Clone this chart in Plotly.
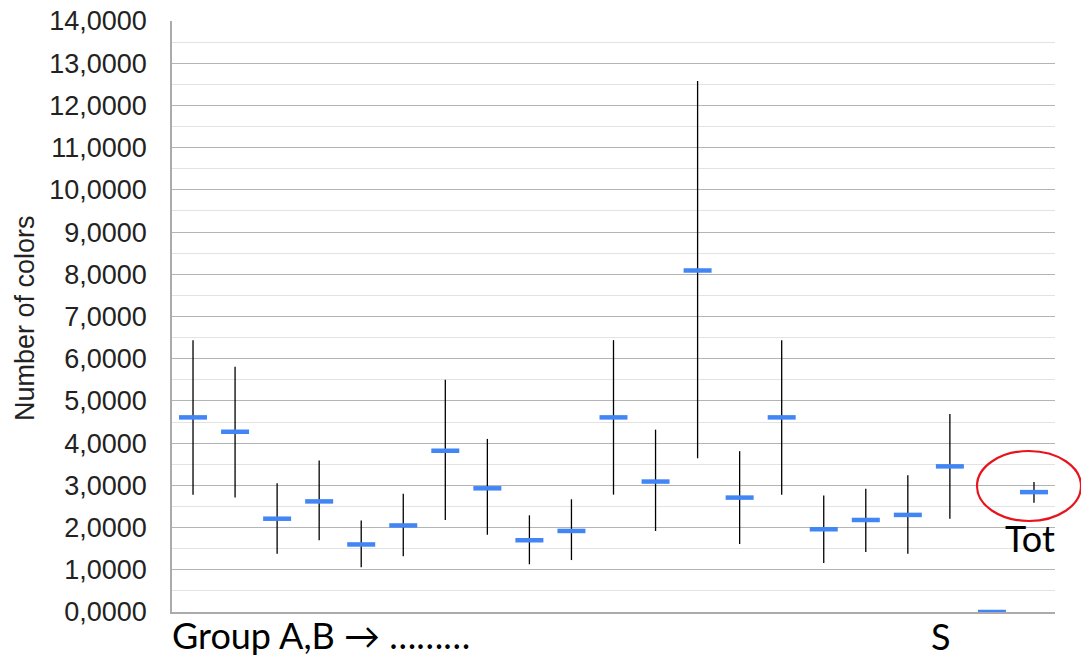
import plotly.graph_objects as go

# ---- data ----
categories = ["A,B", "C", "D", "E", "F", "G", "H", "I", "J", "K", "L",
              "M", "N", "O", "P", "Q", "R", "S1", "S2", "S", "Tot"]
mean_vals = [4.61, 4.27, 2.21, 2.62, 1.60, 2.05, 3.82, 2.93, 1.70, 1.92, 4.61,
             3.09, 8.09, 2.71, 4.61, 1.96, 2.18, 2.30, 3.45, 0.0, 2.84]
upper_vals = [6.44, 5.81, 3.05, 3.59, 2.17, 2.80, 5.50, 4.10, 2.29, 2.67, 6.44,
              4.32, 12.58, 3.81, 6.44, 2.76, 2.92, 3.24, 4.69, 0.0, 3.08]
lower_vals = [2.78, 2.71, 1.38, 1.70, 1.06, 1.32, 2.18, 1.83, 1.13, 1.23, 2.78,
              1.92, 3.64, 1.61, 2.78, 1.16, 1.42, 1.38, 2.21, 0.0, 2.59]
y_ticks = [0, 1, 2, 3, 4, 5, 6, 7, 8, 9, 10, 11, 12, 13, 14]

err_plus = [u - m for u, m in zip(upper_vals, mean_vals)]
err_minus = [m - l for m, l in zip(mean_vals, lower_vals)]

W, H = 1081, 660
ML, MR, MT, MB = 172, 26, 21, 48
PW, PH = W - ML - MR, H - MT - MB


def px(x):
    return (x - ML) / PW


def py(y):
    return (H - MB - y) / PH


fig = go.Figure()
fig.add_trace(go.Scatter(
    x=categories,
    y=mean_vals,
    mode="markers",
    marker=dict(symbol="line-ew", size=20,
                line=dict(color="#4285F4", width=4.5)),
    error_y=dict(type="data", symmetric=False, array=err_plus,
                 arrayminus=err_minus, color="#000000", thickness=1.3,
                 width=0),
    showlegend=False,
))

fig.update_layout(
    width=W, height=H,
    margin=dict(l=ML, r=MR, t=MT, b=MB, pad=0, autoexpand=False),
    plot_bgcolor="white",
    paper_bgcolor="white",
    separators=",.",
    font=dict(family="Liberation Sans, Arial, sans-serif", color="#222222"),
)

fig.update_xaxes(
    type="category",
    range=[-0.5, len(categories) - 0.5],
    showticklabels=False,
    showgrid=False,
    zeroline=False,
    showline=True, linecolor="#ababab", linewidth=1.5,
    ticks="",
    automargin=False,
)

fig.update_yaxes(
    range=[0, 14],
    tickvals=y_ticks,
    tickformat=".4f",
    tickfont=dict(size=27, color="#222222"),
    ticks="",
    ticklabelstandoff=18,
    showgrid=True, gridcolor="#b4b4b4", gridwidth=1.3,
    minor=dict(dtick=0.5, showgrid=True, gridcolor="#e3e3e3", gridwidth=1.3),
    zeroline=False,
    showline=True, linecolor="#ababab", linewidth=1.5,
    automargin=False,
)

# y-axis title
fig.add_annotation(text="Number of colors", xref="paper", yref="paper",
                   x=px(25), y=py(318), textangle=-90, showarrow=False,
                   xanchor="center", yanchor="middle",
                   font=dict(size=27, color="#222222",
                             family="Liberation Sans, Arial, sans-serif"))

# bottom / side texts
txt_font = dict(family="Lato, Open Sans, sans-serif", size=36, color="#000000")
fig.add_annotation(text="Group A,B \u2192 \u2026\u2026\u2026", xref="paper", yref="paper",
                   x=px(170), y=py(635), xanchor="left", yanchor="middle",
                   showarrow=False, font=txt_font)
fig.add_annotation(text="S", xref="paper", yref="paper",
                   x=px(940.5), y=py(636), xanchor="center", yanchor="middle",
                   showarrow=False, font=txt_font)
fig.add_annotation(text="Tot", xref="paper", yref="paper",
                   x=px(1030), y=py(538), xanchor="center", yanchor="middle",
                   showarrow=False, font=txt_font)

# red ellipse around "Tot"
fig.add_shape(type="circle", xref="paper", yref="paper",
              x0=px(977), x1=px(1081), y0=py(521), y1=py(451),
              line=dict(color="#e8141b", width=2.2), fillcolor="rgba(0,0,0,0)")

fig.write_html("out.html")
